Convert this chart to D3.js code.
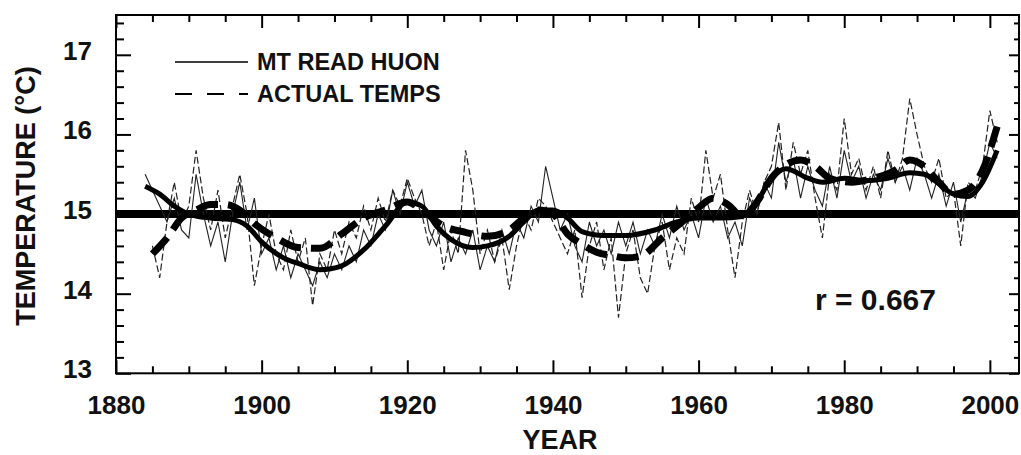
<!DOCTYPE html>
<html><head><meta charset="utf-8">
<script src="https://cdn.jsdelivr.net/npm/d3@7/dist/d3.min.js"></script>
<style>body{margin:0;background:#fff}svg{display:block}text{font-family:"Liberation Sans",Arial,sans-serif;fill:#111}</style>
</head><body><svg id="c" width="1021" height="455"></svg>
<script>
// ---- data ----
const huonYears = d3.range(1884, 2002);
const huonValues = [15.5,15.3,15.1,14.9,15.2,14.8,14.7,15.5,15.0,14.6,14.9,14.4,15.0,15.4,14.8,15.2,
14.5,14.7,14.3,14.6,14.2,14.5,14.3,14.1,14.4,14.2,14.5,14.3,14.6,14.4,14.8,14.6,15.0,14.8,15.3,15.0,
15.4,15.1,15.3,14.8,14.6,14.9,14.4,14.7,14.5,14.8,14.3,14.6,14.4,14.8,14.5,14.9,14.7,15.1,14.9,15.6,
15.2,14.8,15.0,14.6,14.4,14.9,14.6,14.8,14.5,14.9,14.6,14.9,14.5,14.8,14.6,15.0,14.7,15.1,14.8,15.0,
14.7,15.2,14.9,15.1,14.7,14.9,14.6,15.2,15.0,15.4,15.2,15.9,15.4,15.7,15.2,15.6,15.3,15.1,15.6,15.2,
15.8,15.4,15.6,15.2,15.5,15.3,15.7,15.4,15.6,15.3,15.7,15.5,15.2,15.5,15.1,15.4,14.9,15.3,15.2,15.5,
15.9,15.7];
const actualYears = d3.range(1885, 2002);
const actualValues = [14.6,14.2,14.9,15.4,14.9,15.1,15.8,15.2,14.8,15.3,14.7,15.1,15.5,15.0,14.1,
14.6,15.0,14.5,14.3,14.8,14.4,14.7,13.85,14.5,14.3,14.8,14.5,14.9,14.7,15.1,14.8,15.2,14.9,15.3,15.1,
15.45,15.2,15.0,14.6,14.9,14.3,14.8,14.5,15.8,15.3,14.5,14.8,14.4,14.7,14.05,14.6,15.0,14.8,15.2,15.1,
14.9,14.7,14.5,14.8,13.95,14.6,14.9,14.3,14.7,13.7,14.5,14.8,14.2,14.0,14.6,14.9,14.3,14.7,14.5,15.2,
14.9,15.8,15.2,15.5,14.8,14.2,14.9,15.3,15.0,15.4,15.6,16.15,15.3,15.9,15.5,15.8,15.2,14.7,15.5,15.3,
16.2,15.5,15.7,15.3,15.6,15.2,15.8,15.4,15.7,16.45,16.0,15.6,15.4,15.7,15.2,15.3,14.6,15.4,15.3,15.6,
16.3,15.9];
const huonSmoothYears = [1884,1886,1888,1890,1893,1896,1898,1900,1903,1905,1908,1911,1914,1917,1920,1922,1924,1926,1929,1931,1934,1936,1938,1940,1942,1944,1947,1950,1954,1957,1960,1963,1966,1968,1970,1972,1975,1977,1980,1983,1986,1989,1991,1993,1995,1997,1999,2001];
const huonSmoothValues = [15.35,15.25,15.1,15.0,14.95,14.93,14.85,14.65,14.45,14.38,14.3,14.35,14.55,14.85,15.15,15.1,14.85,14.68,14.58,14.6,14.72,14.9,15.05,15.05,14.95,14.78,14.73,14.73,14.8,14.9,14.95,14.95,14.97,15.15,15.45,15.57,15.45,15.4,15.45,15.42,15.45,15.52,15.5,15.38,15.25,15.22,15.4,15.8];
const actualSmoothYears = [1885,1887,1889,1891,1893,1895,1897,1899,1902,1905,1908,1911,1914,1917,1920,1922,1925,1928,1931,1934,1936,1938,1940,1942,1944,1946,1948,1950,1952,1955,1958,1960,1962,1964,1966,1968,1970,1972,1974,1976,1978,1981,1984,1987,1989,1991,1993,1995,1997,1999,2001];
const actualSmoothValues = [14.5,14.7,14.95,15.05,15.12,15.12,15.05,14.88,14.7,14.58,14.57,14.75,14.95,15.05,15.15,15.05,14.85,14.77,14.72,14.8,14.95,15.05,15.0,14.75,14.62,14.52,14.48,14.45,14.47,14.7,14.92,15.08,15.2,15.12,14.97,15.15,15.45,15.62,15.68,15.6,15.45,15.4,15.45,15.55,15.68,15.6,15.4,15.25,15.3,15.55,16.1];
const xTicks = [1880,1900,1920,1940,1960,1980,2000];
const yTicks = [13,14,15,16,17];
const baseline = 15;
const legendLabels = ["MT READ HUON","ACTUAL TEMPS"];
const rText = "r = 0.667";

// ---- layout ----
const L=116, R=1019, T=15, B=373.3;
const svg = d3.select("#c");
const x = d3.scaleLinear().domain([1880,2004]).range([L,R]);
const y = d3.scaleLinear().domain([13,17.5]).range([B,T]);
const pair = (ys,vs)=>ys.map((yr,i)=>[yr,vs[i]]);
const line = d3.line().x(d=>x(d[0])).y(d=>y(d[1]));
const smooth = d3.line().x(d=>x(d[0])).y(d=>y(d[1])).curve(d3.curveMonotoneX);

// baseline
svg.append("line").attr("x1",L).attr("x2",R).attr("y1",y(baseline)).attr("y2",y(baseline))
  .attr("stroke","#000").attr("stroke-width",8);

// thin series
svg.append("path").datum(pair(huonYears,huonValues)).attr("d",line)
  .attr("fill","none").attr("stroke","#222").attr("stroke-width",1.1);
svg.append("path").datum(pair(actualYears,actualValues)).attr("d",line)
  .attr("fill","none").attr("stroke","#222").attr("stroke-width",1.2).attr("stroke-dasharray","7,3");
// thick smoothed
svg.append("path").datum(pair(huonSmoothYears,huonSmoothValues)).attr("d",smooth)
  .attr("fill","none").attr("stroke","#000").attr("stroke-width",5).attr("stroke-linejoin","round");
svg.append("path").datum(pair(actualSmoothYears,actualSmoothValues)).attr("d",smooth)
  .attr("fill","none").attr("stroke","#000").attr("stroke-width",7).attr("stroke-dasharray","22,10");

// axes
const xMinor = d3.range(1880,2005,5).filter(v=>v%20!==0);
const yMinor = d3.range(13,17.51,0.2).map(v=>+v.toFixed(1)).filter(v=>Math.abs(v-Math.round(v))>0.01);
const bottom = svg.append("g").attr("transform",`translate(0,${B})`)
  .call(d3.axisBottom(x).tickValues(xTicks).tickFormat(d3.format("d")).tickSizeInner(-13).tickSizeOuter(0).tickPadding(22));
bottom.select(".domain").remove();
bottom.selectAll(".tick line").attr("stroke","#000").attr("stroke-width",2);
bottom.selectAll("text").attr("font-size",26).attr("font-weight","bold").attr("dy","0.71em");
svg.append("g").attr("transform",`translate(0,${B})`)
  .call(d3.axisBottom(x).tickValues(xMinor).tickFormat("").tickSizeInner(-7).tickSizeOuter(0))
  .call(g=>{g.select(".domain").remove();g.selectAll("line").attr("stroke","#000").attr("stroke-width",2);});
svg.append("g").attr("transform",`translate(0,${T})`)
  .call(d3.axisTop(x).tickValues(xTicks).tickFormat("").tickSizeInner(-13).tickSizeOuter(0))
  .call(g=>{g.select(".domain").remove();g.selectAll("line").attr("stroke","#000").attr("stroke-width",2);});
svg.append("g").attr("transform",`translate(0,${T})`)
  .call(d3.axisTop(x).tickValues(xMinor).tickFormat("").tickSizeInner(-7).tickSizeOuter(0))
  .call(g=>{g.select(".domain").remove();g.selectAll("line").attr("stroke","#000").attr("stroke-width",2);});

const left = svg.append("g").attr("transform",`translate(${L},0)`)
  .call(d3.axisLeft(y).tickValues(yTicks).tickFormat(d3.format("d")).tickSizeInner(-15).tickSizeOuter(0).tickPadding(24));
left.select(".domain").remove();
left.selectAll(".tick line").attr("stroke","#000").attr("stroke-width",2);
left.selectAll("text").attr("font-size",26).attr("font-weight","bold").attr("dy","0.17em");
svg.append("g").attr("transform",`translate(${L},0)`)
  .call(d3.axisLeft(y).tickValues(yMinor).tickFormat("").tickSizeInner(-8).tickSizeOuter(0))
  .call(g=>{g.select(".domain").remove();g.selectAll("line").attr("stroke","#000").attr("stroke-width",2);});
svg.append("g").attr("transform",`translate(${R},0)`)
  .call(d3.axisRight(y).tickValues(yTicks).tickFormat("").tickSizeInner(-10).tickSizeOuter(0))
  .call(g=>{g.select(".domain").remove();g.selectAll("line").attr("stroke","#000").attr("stroke-width",2);});
svg.append("g").attr("transform",`translate(${R},0)`)
  .call(d3.axisRight(y).tickValues(yMinor).tickFormat("").tickSizeInner(-5).tickSizeOuter(0))
  .call(g=>{g.select(".domain").remove();g.selectAll("line").attr("stroke","#000").attr("stroke-width",2);});

// frame
svg.append("rect").attr("x",L).attr("y",T).attr("width",R-L).attr("height",B-T)
  .attr("fill","none").attr("stroke","#000").attr("stroke-width",2);

// titles
svg.append("text").attr("x",560).attr("y",449).attr("text-anchor","middle")
  .attr("font-size",27).attr("font-weight","bold").text("YEAR");
svg.append("text").attr("transform","translate(35,196) rotate(-90)").attr("text-anchor","middle")
  .attr("font-size",27).attr("font-weight","bold").text("TEMPERATURE (°C)");

// legend
svg.append("line").attr("x1",175).attr("x2",248).attr("y1",62).attr("y2",62).attr("stroke","#000").attr("stroke-width",1.6);
svg.append("line").attr("x1",175).attr("x2",248).attr("y1",94).attr("y2",94).attr("stroke","#000").attr("stroke-width",1.8).attr("stroke-dasharray","17,15");
svg.append("text").attr("x",257).attr("y",70).attr("font-size",23.5).attr("font-weight","bold").text(legendLabels[0]);
svg.append("text").attr("x",257).attr("y",102).attr("font-size",23.5).attr("font-weight","bold").text(legendLabels[1]);

svg.append("text").attr("x",815).attr("y",310).attr("font-size",30).attr("font-weight","bold").text(rText);
</script></body></html>
